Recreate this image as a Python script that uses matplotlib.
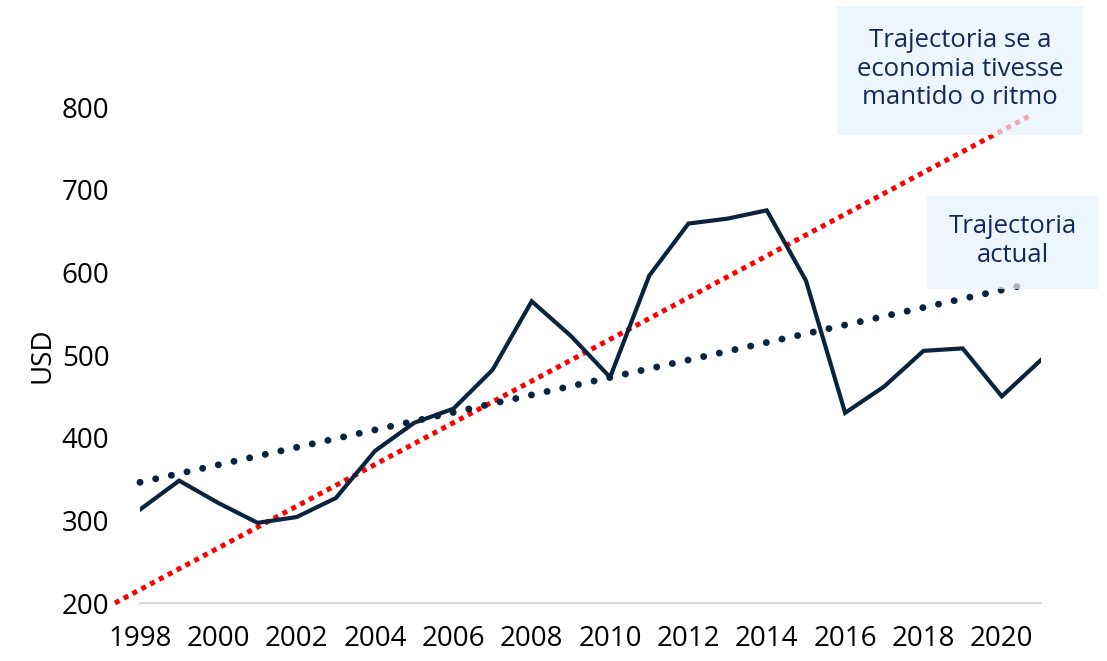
import numpy as np
import matplotlib
matplotlib.use("Agg")
import matplotlib.pyplot as plt
from matplotlib.patches import Rectangle

plt.rcParams['font.family'] = ['Open Sans', 'DejaVu Sans']

years = list(range(1998, 2022))
usd = [313, 348, 321, 297, 304, 327, 384, 418, 435, 482, 565, 523,
       473, 596, 659, 665, 675, 590, 430, 462, 505, 508, 450, 494]

# trend lines: (start year, end year), (start value, end value)
trend_x = [1998.0, 2020.7]
trend_y = [346, 586]
pace_x = [1997.36, 2020.7]
pace_y = [200, 789]

xticks = list(range(1998, 2021, 2))
yticks = list(range(200, 801, 100))

label_pace = "Trajectoria se a\neconomia tivesse\nmantido o ritmo"
label_trend = "Trajectoria\nactual"

navy = '#0C2340'
text_navy = '#10295A'
box_color = '#E8F3FD'

fig = plt.figure(figsize=(11.07, 6.61), dpi=100)
ax = fig.add_axes([140 / 1107, 1 - 603 / 661, 901 / 1107, 496 / 661])

ax.plot(years, usd, color=navy, lw=3.0, solid_joinstyle='miter', zorder=3)
ax.plot(pace_x, pace_y, color='#FF0000', lw=3.6, linestyle=(0, (1, 1)),
        dash_capstyle='butt', clip_on=False, zorder=2)
ax.plot(trend_x, trend_y, color=navy, lw=5.0, linestyle=(0, (0.01, 2.3)),
        dash_capstyle='round', clip_on=False, zorder=2)

ax.set_xlim(1998, 2021)
ax.set_ylim(200, 800)
ax.set_xticks(xticks)
ax.set_xticklabels([str(y) for y in xticks])
ax.set_yticks(yticks)
for s in ['top', 'right', 'left']:
    ax.spines[s].set_visible(False)
ax.spines['bottom'].set_color('#D9D9D9')
ax.spines['bottom'].set_linewidth(1.5)
ax.tick_params(axis='both', length=0, labelsize=20, colors='black')
ax.tick_params(axis='x', pad=16)
ax.tick_params(axis='y', pad=22)
ax.set_ylabel("USD", fontsize=20, labelpad=4)

# annotation boxes (semi-transparent, on top of the lines)
W, H = 1107, 661
for (x0, y0, x1, y1) in [(837, 6, 1083, 135), (927, 196, 1099, 289)]:
    fig.add_artist(Rectangle((x0 / W, 1 - y1 / H), (x1 - x0) / W, (y1 - y0) / H,
                             transform=fig.transFigure, facecolor=box_color,
                             edgecolor='none', alpha=0.7, zorder=5))
fig.text(960 / W, 1 - 69 / H, label_pace, ha='center', va='center',
         fontsize=18.5, color=text_navy, linespacing=1.2, zorder=6)
fig.text(1013 / W, 1 - 241 / H, label_trend, ha='center', va='center',
         fontsize=18.5, color=text_navy, linespacing=1.2, zorder=6)

fig.savefig("out.png", dpi=100)
